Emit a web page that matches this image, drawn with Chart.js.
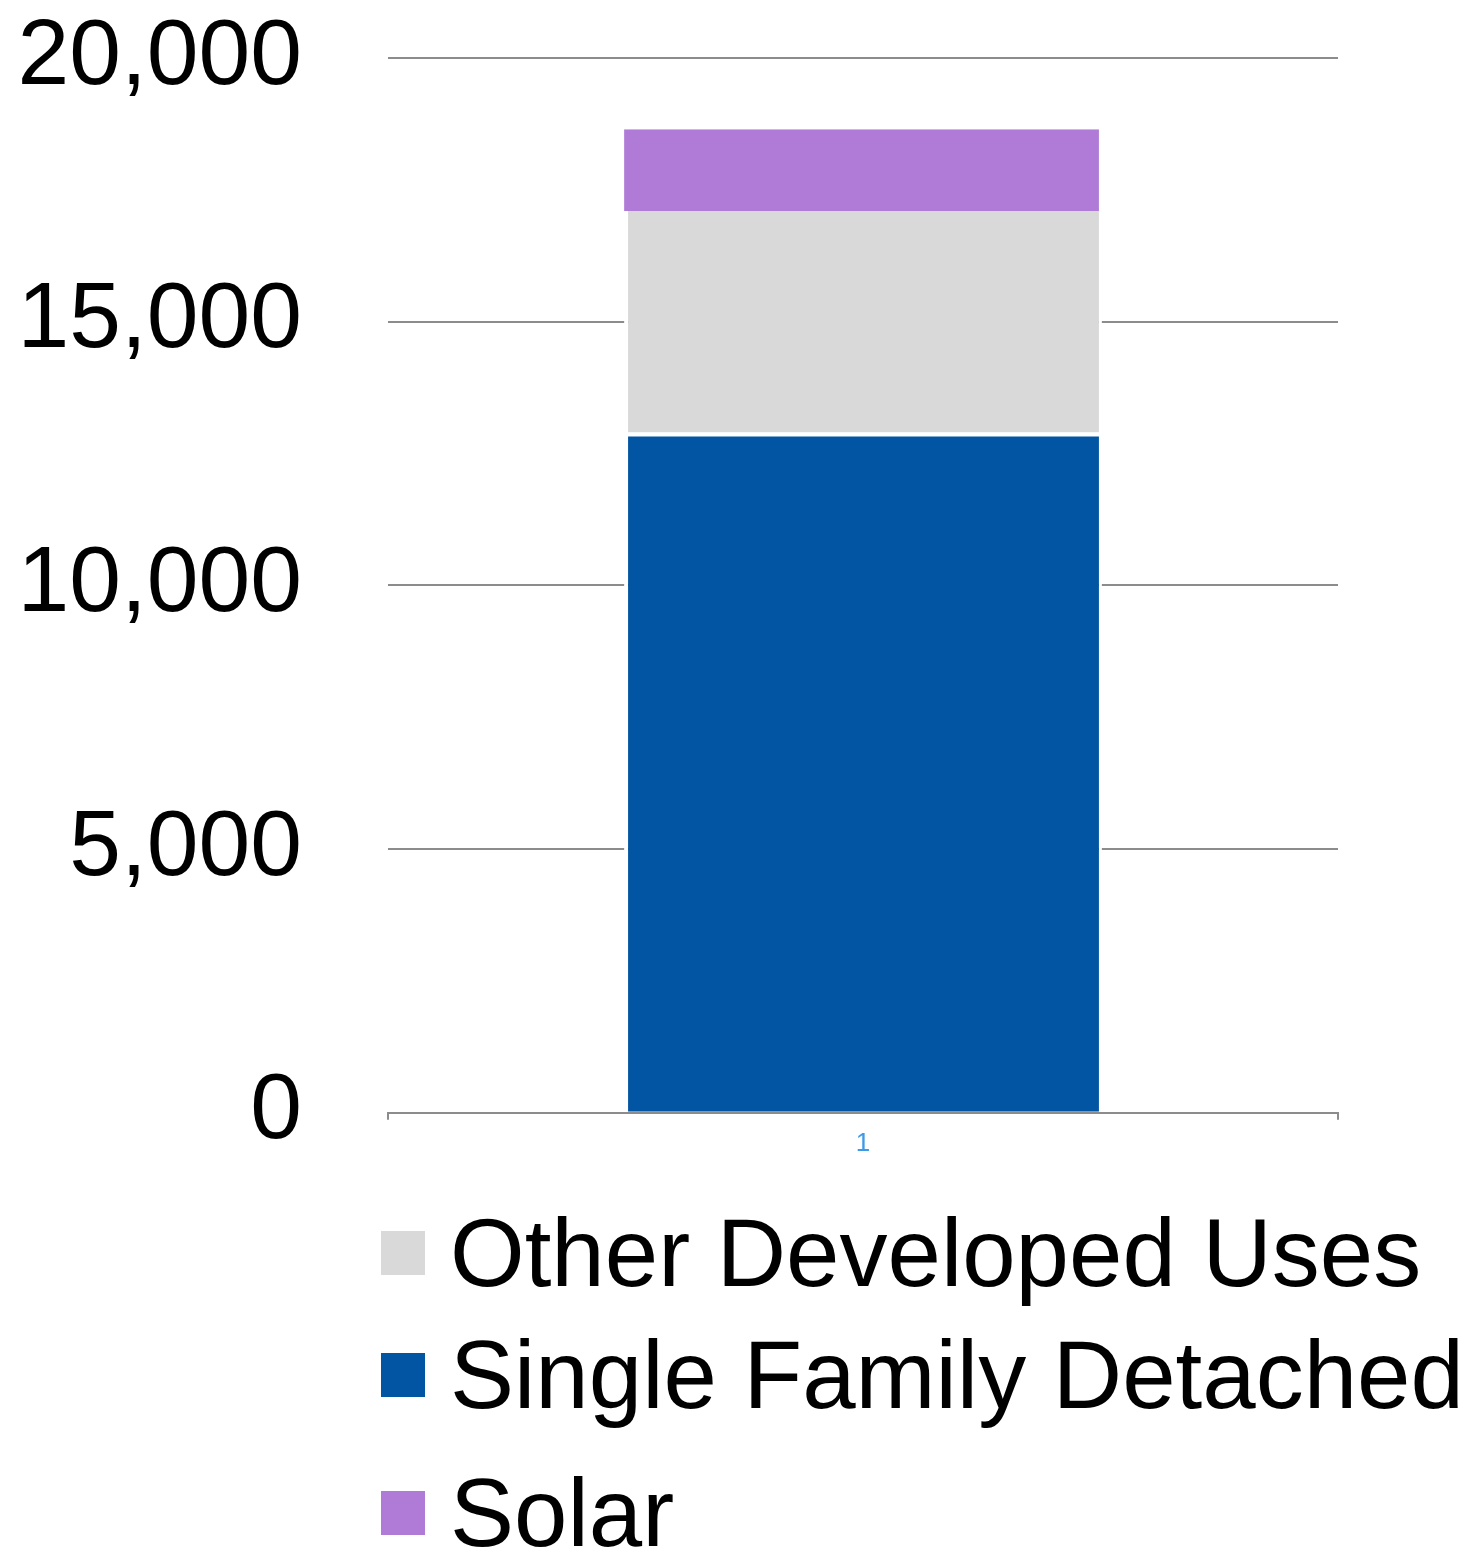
<!DOCTYPE html>
<html>
<head>
<meta charset="utf-8">
<script src="https://cdn.jsdelivr.net/npm/chart.js@4.4.1/dist/chart.umd.min.js"></script>
<style>
  html, body { margin: 0; padding: 0; background: #fff; }
  #wrap { position: relative; width: 1474px; height: 1557px; font-family: 'Liberation Sans', Arial, sans-serif; }
  #chart { position: absolute; left: 0; top: 0; }
  #legend { position: absolute; left: 381px; top: 1209px; margin: 0; padding: 0; list-style: none; }
  #legend li { display: flex; align-items: center; height: 88px; margin-bottom: 34px; white-space: nowrap; }
  #legend li:nth-child(2) { margin-bottom: 50px; }
  #legend .box { width: 44px; height: 44px; flex: none; }
  #legend .txt { margin-left: 25px; font-size: 96px; line-height: 1; color: #000; }
</style>
</head>
<body>
<div id="wrap">
  <canvas id="chart" width="1474" height="1170"></canvas>
  <ul id="legend"></ul>
</div>
<script>
'use strict';

// ── Data ──────────────────────────────────────────────────────────────────────
const categories   = ['1'];
const singleFamily = [12900];
const otherUses    = [4200];
const solar        = [1550];
const yTicks       = [0, 5000, 10000, 15000, 20000];

// legend lists the series in this order
const legendOrder = ['Other Developed Uses', 'Single Family Detached', 'Solar'];

const FONT = "'Liberation Sans', Arial, sans-serif";
const GRID = '#8c8c8c';

// ── Chart ─────────────────────────────────────────────────────────────────────
const chart = new Chart(document.getElementById('chart'), {
  type: 'bar',
  data: {
    labels: categories,
    datasets: [
      {
        label: 'Single Family Detached',
        data: singleFamily,
        backgroundColor: '#0255A3',
        borderColor: '#ffffff',
        borderWidth: { top: 4, left: 4, right: 3, bottom: 0 },
      },
      {
        label: 'Other Developed Uses',
        data: otherUses,
        backgroundColor: '#D9D9D9',
        borderColor: '#ffffff',
        borderWidth: { top: 0, left: 4, right: 3, bottom: 0 },
      },
      {
        label: 'Solar',
        data: solar,
        backgroundColor: '#AF7BD6',
        borderColor: '#ffffff',
        borderWidth: { top: 0, left: 0, right: 3, bottom: 0 },
      },
    ]
  },
  options: {
    responsive: false,
    animation: false,
    categoryPercentage: 0.503,
    barPercentage: 1,
    layout: { padding: { top: 58, right: 136, bottom: 3, left: 0 } },
    plugins: {
      legend: { display: false },
      tooltip: { enabled: false },
    },
    scales: {
      x: {
        stacked: true,
        grid: { offset: true, drawOnChartArea: false, color: GRID, lineWidth: 2, tickLength: 7 },
        border: { color: GRID, width: 2 },
        ticks: { color: '#3d9ae8', font: { family: FONT, size: 26 }, padding: 8 },
      },
      y: {
        stacked: true,
        min: yTicks[0],
        max: yTicks[yTicks.length - 1],
        // fixed axis width; drop the label half-height padding so layout padding rules
        afterFit: s => { s.width = 388; s.paddingTop = 0; s.paddingBottom = 0; },
        afterBuildTicks: s => { s.ticks = yTicks.map(v => ({ value: v })); },
        grid: { color: GRID, lineWidth: 2, drawTicks: false },
        border: { display: false },
        ticks: {
          color: '#000',
          padding: 86,
          font: { family: FONT, size: 93 },
          callback: v => Number(v).toLocaleString('en-US'),
        },
      }
    }
  }
});

// ── HTML legend ───────────────────────────────────────────────────────────────
const ul = document.getElementById('legend');
legendOrder.forEach(name => {
  const ds = chart.data.datasets.find(d => d.label === name);
  const li = document.createElement('li');
  li.innerHTML = `<span class="box" style="background:${ds.backgroundColor}"></span><span class="txt">${ds.label}</span>`;
  ul.appendChild(li);
});
</script>
</body>
</html>
